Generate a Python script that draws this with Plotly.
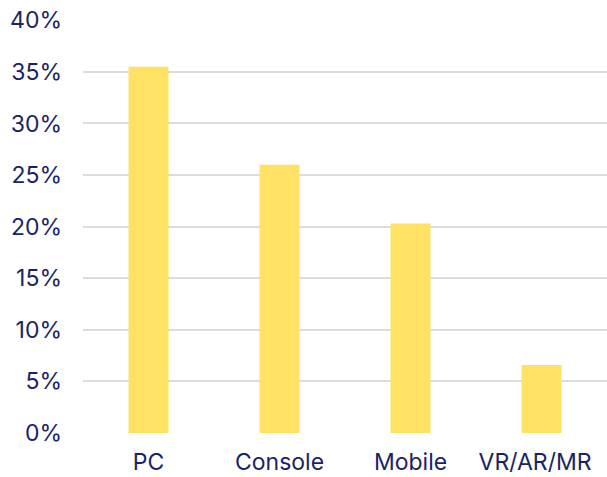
import plotly.graph_objects as go

categories = ["PC", "Console", "Mobile", "VR/AR/MR"]
values = [35.5, 26.0, 20.3, 6.6]
category_labels = ["PC", "Console", "Mobile", "VR/AR/MR" + "\u00a0" * 2]
tick_vals = [0, 5, 10, 15, 20, 25, 30, 35, 40]
tick_text = [f"{v}%" for v in tick_vals]

navy = "#1B2366"

fig = go.Figure(go.Bar(x=categories, y=values, marker=dict(color="#FFE264", line=dict(width=0))))
fig.update_layout(
    width=607, height=477,
    margin=dict(l=83, r=0, t=20, b=44),
    plot_bgcolor="white", paper_bgcolor="white",
    bargap=0.695,
    showlegend=False,
    font=dict(family="Inter", color=navy, size=23),
)
fig.update_yaxes(range=[0, 40.03], tickvals=tick_vals, ticktext=tick_text,
                 showgrid=True, gridcolor="#DCDCDC", gridwidth=2, automargin=False,
                 zeroline=False, showline=False, ticks="", ticklabelstandoff=20,
                 ticklabeloverflow="allow")
fig.update_xaxes(tickvals=categories, ticktext=category_labels,
                 showline=False, ticks="", ticklabelstandoff=13, automargin=False,
                 ticklabeloverflow="allow")
fig.write_html("out.html", config={"displayModeBar": False},
               post_script="document.body.style.margin='0px';document.body.style.overflow='hidden';")
